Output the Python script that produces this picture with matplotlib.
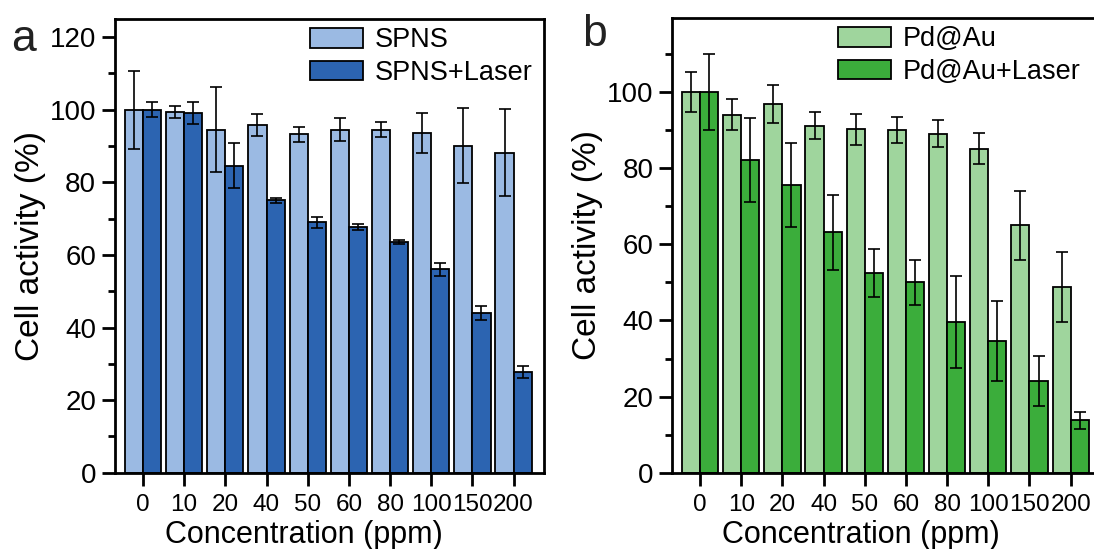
import matplotlib

matplotlib.use("Agg")
import matplotlib.pyplot as plt
import numpy as np

plt.rcParams["font.family"] = ["Liberation Sans", "DejaVu Sans"]

CONC = ["0", "10", "20", "40", "50", "60", "80", "100", "150", "200"]

SPNS = [100, 99.3, 94.5, 95.8, 93.2, 94.5, 94.5, 93.6, 90.1, 88.2]
SPNS_ERR = [10.7, 1.7, 11.7, 2.9, 2.1, 3.2, 2.0, 5.6, 10.4, 12.0]
SPNS_LASER = [100, 99.1, 84.5, 75.0, 69.0, 67.8, 63.5, 56.0, 44.0, 27.8]
SPNS_LASER_ERR = [2.0, 3.0, 6.2, 0.7, 1.5, 0.8, 0.5, 1.7, 1.9, 1.7]

PDAU = [100, 94.1, 96.9, 91.2, 90.2, 90.0, 89.1, 85.2, 65.0, 48.8]
PDAU_ERR = [5.2, 4.0, 5.1, 3.5, 4.1, 3.4, 3.5, 4.0, 9.0, 9.3]
PDAU_LASER = [100, 82.2, 75.6, 63.2, 52.4, 50.0, 39.6, 34.6, 24.1, 13.8]
PDAU_LASER_ERR = [10.0, 11.0, 11.1, 9.9, 6.3, 6.0, 12.0, 10.5, 6.5, 2.2]

BLUE_LIGHT = "#9bbae3"
BLUE_DARK = "#2c64b1"
GREEN_LIGHT = "#9fd59d"
GREEN_DARK = "#3bad3b"

WIDTH = 0.44


def draw_panel(ax, base, base_err, laser, laser_err, colors, labels, ylim,
               yticks, legend_x):
    x = np.arange(len(CONC))
    err_kw = dict(ecolor="black", elinewidth=1.2, capsize=4.5, capthick=1.2)
    ax.bar(x - WIDTH / 2, base, WIDTH, color=colors[0], edgecolor="black",
           linewidth=1.3, label=labels[0], zorder=2)
    ax.bar(x + WIDTH / 2, laser, WIDTH, color=colors[1], edgecolor="black",
           linewidth=1.3, label=labels[1], zorder=2)
    ax.errorbar(x - WIDTH / 2, base, yerr=base_err, fmt="none", zorder=3, **err_kw)
    ax.errorbar(x + WIDTH / 2, laser, yerr=laser_err, fmt="none", zorder=3, **err_kw)

    ax.set_xlim(-0.68, 9.74)
    ax.set_ylim(*ylim)
    ax.set_xticks(x)
    ax.set_xticklabels(CONC, fontsize=17.5)
    ax.set_yticks(yticks)
    ax.set_yticks(np.arange(10, ylim[1], 20), minor=True)
    ax.tick_params(axis="y", labelsize=20, pad=4)
    ax.tick_params(axis="x", pad=5.5)
    ax.tick_params(which="major", direction="out", length=9.5, width=2)
    ax.tick_params(which="minor", direction="out", length=5, width=2)
    ax.tick_params(axis="x", which="minor", bottom=False)
    for sp in ax.spines.values():
        sp.set_linewidth(2)
    ax.set_xlabel("Concentration (ppm)", fontsize=22, va="baseline")
    ax.xaxis.set_label_coords(0.44, -0.155)
    ax.set_ylabel("Cell activity (%)", fontsize=24, labelpad=3)
    ax.legend(loc="upper right", bbox_to_anchor=(legend_x, 1.0), frameon=False,
              fontsize=19.5, handlelength=1.95, handleheight=0.75,
              handletextpad=0.45, labelspacing=0.25, borderaxespad=0.1,
              borderpad=0.2)


fig = plt.figure(figsize=(10.94, 5.49), dpi=100)
ax_a = fig.add_axes([0.1051, 0.139, 0.3922, 0.8264])
ax_b = fig.add_axes([0.6143, 0.139, 0.3922, 0.8282])

draw_panel(ax_a, SPNS, SPNS_ERR, SPNS_LASER, SPNS_LASER_ERR,
           (BLUE_LIGHT, BLUE_DARK), ("SPNS", "SPNS+Laser"),
           (0, 125), np.arange(0, 121, 20), 0.993)
draw_panel(ax_b, PDAU, PDAU_ERR, PDAU_LASER, PDAU_LASER_ERR,
           (GREEN_LIGHT, GREEN_DARK), ("Pd@Au", "Pd@Au+Laser"),
           (0, 119.5), np.arange(0, 101, 20), 0.972)

fig.text(0.010, 0.965, "a", fontsize=32, color="#222222", va="top")
fig.text(0.532, 0.975, "b", fontsize=32, color="#222222", va="top")

fig.savefig("out.png", dpi=100)
